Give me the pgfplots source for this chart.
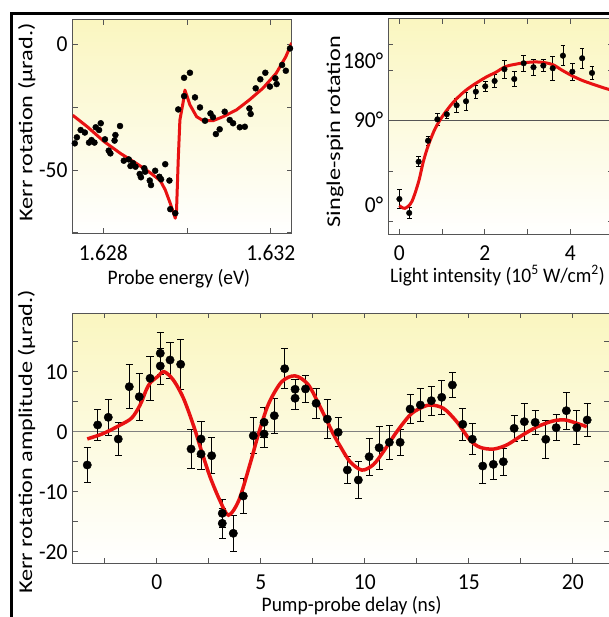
\documentclass[border=0pt]{standalone}
\usepackage{fontspec}
\setmainfont{Carlito}
\usepackage{pgfplots}
\usepackage{pgfplotstable}
\pgfplotsset{compat=1.18}

\definecolor{fitred}{RGB}{232,18,18}
\definecolor{paleyellow}{RGB}{250,246,192}
\definecolor{spine}{RGB}{85,85,85}

% Kerr rotation vs probe energy (x = meV above 1.628 eV)
\pgfplotstableread{
x y
-0.68 -39.4
-0.63 -37.0
-0.54 -34.1
-0.44 -35.1
-0.34 -39.1
-0.28 -38.1
-0.21 -39.1
-0.18 -33.0
-0.10 -34.1
-0.06 -31.4
0.04 -37.8
0.13 -42.3
0.17 -43.4
0.27 -38.3
0.29 -36.1
0.40 -32.5
0.49 -46.3
0.61 -45.8
0.65 -48.4
0.71 -47.3
0.77 -48.7
0.87 -51.6
0.90 -52.9
0.98 -49.3
1.00 -50.7
1.11 -54.2
1.14 -56.0
1.24 -50.3
1.34 -52.7
1.38 -53.7
1.48 -47.7
1.58 -54.2
1.60 -65.6
1.72 -67.2
1.79 -25.9
1.93 -13.3
1.93 -20.6
2.07 -11.3
2.19 -21.1
2.31 -25.1
2.43 -30.4
2.56 -27.5
2.62 -29.0
2.69 -35.7
2.78 -33.8
2.90 -26.8
3.02 -30.1
3.10 -31.4
3.26 -33.0
3.38 -32.8
3.49 -25.5
3.52 -27.7
3.64 -17.5
3.75 -13.9
3.87 -11.3
3.98 -16.8
4.11 -13.5
4.14 -15.8
4.27 -8.2
4.36 -10.5
4.46 -1.6
}\kerrdata

\pgfplotstableread{
x y
-0.73 -28.2
-0.38 -32.8
0.02 -38.7
0.41 -43.4
0.81 -47.6
1.12 -51.1
1.36 -54.2
1.48 -57.9
1.60 -63.3
1.72 -69.2
1.75 -65.9
1.79 -46.0
1.83 -30.1
1.91 -22.8
1.95 -18.2
2.07 -24.1
2.23 -28.8
2.39 -30.4
2.62 -30.4
2.86 -28.8
3.18 -26.1
3.49 -22.1
3.81 -17.5
4.13 -11.5
4.36 -4.9
4.50 0.6
}\kerrfit

% single-spin rotation vs light intensity
\pgfplotstableread{
x y e
0.00 6.6 9.7
0.23 -8.1 6.0
0.45 46.0 5.3
0.67 68.1 4.5
0.89 90.7 6.1
1.11 96.0 4.2
1.34 105.5 7.0
1.56 109.7 9.7
1.79 119.8 7.0
2.01 125.5 5.3
2.23 131.1 7.0
2.46 143.5 9.1
2.69 133.2 7.6
2.91 149.8 8.1
3.14 145.6 8.2
3.37 147.3 6.5
3.59 144.5 12.3
3.83 157.8 10.5
4.05 140.9 9.1
4.28 155.1 10.9
4.51 139.6 7.0
}\spindata

\pgfplotstableread{
x y
0.00 -0.4
0.13 -3.2
0.29 3.8
0.45 24.9
0.56 46.0
0.68 63.6
0.84 81.2
1.03 95.3
1.26 108.6
1.50 119.2
1.73 126.9
2.05 135.7
2.24 139.8
2.48 146.2
2.71 148.7
2.94 150.4
3.18 151.2
3.41 150.4
3.61 148.0
3.80 142.7
4.04 136.7
4.27 131.9
4.51 128.0
4.74 124.5
4.95 121.6
}\spinfit

% Kerr rotation amplitude vs pump-probe delay
\pgfplotstableread{
x y e
-3.34 -5.55 2.9
-2.84 1.12 2.6
-2.33 2.40 3.0
-1.85 -1.22 2.7
-1.32 7.50 3.7
-0.84 5.83 3.9
-0.32 8.90 3.7
0.17 13.07 3.5
0.17 10.95 3.0
0.64 11.95 3.0
1.15 11.23 4.2
1.65 -2.88 3.3
2.13 -1.22 2.9
2.13 -3.72 2.6
2.64 -4.00 3.0
3.15 -13.60 2.4
3.15 -15.27 2.5
3.68 -16.93 3.0
4.16 -10.72 2.9
4.64 -0.67 3.0
5.16 1.57 2.5
5.16 -0.38 2.2
5.65 2.67 2.9
6.15 10.50 3.3
6.65 7.07 1.7
6.65 5.57 1.8
7.15 7.12 2.2
7.66 4.73 2.5
8.20 2.10 3.3
8.72 -0.10 2.4
9.16 -6.38 2.2
9.69 -8.05 3.1
10.21 -4.17 3.1
10.69 -2.67 3.6
11.18 -1.77 2.9
11.70 -1.77 2.1
12.18 3.78 2.4
12.67 4.45 2.7
13.20 5.17 2.4
13.70 5.73 2.9
14.21 7.78 2.1
14.71 1.23 2.7
15.17 -1.25 2.6
15.67 -5.72 2.9
16.18 -5.44 2.5
16.66 -5.00 2.2
17.18 0.56 2.1
17.67 1.67 3.1
18.19 1.56 2.0
18.70 -1.27 3.2
19.20 0.67 2.2
19.69 3.50 3.1
20.19 0.67 2.8
20.69 1.95 2.7
}\delaydata

\pgfplotstableread{
x y
-3.34 -1.2
-2.57 -0.3
-1.76 1.1
-1.20 2.3
-0.80 4.45
-0.50 7.0
-0.30 8.2
0.05 9.2
0.35 10.0
0.80 8.6
1.28 5.6
1.76 1.1
2.16 -3.3
2.56 -7.5
3.04 -11.5
3.45 -13.9
3.95 -11.4
4.50 -5.2
4.88 -0.5
5.37 4.6
6.00 8.3
6.65 9.3
7.29 7.8
7.93 3.6
8.49 -0.4
8.85 -2.6
9.29 -5.0
9.86 -6.4
10.41 -5.5
10.90 -3.3
11.54 0.0
12.18 2.8
12.66 3.9
13.14 4.45
13.78 3.9
14.42 1.67
15.06 -1.4
15.54 -2.6
16.18 -2.9
16.83 -2.2
17.47 -0.8
18.27 0.8
19.07 1.8
19.63 1.95
20.19 1.4
20.67 0.83
}\delayfit

\pgfplotsset{
  panel/.style={
    scale only axis,
    axis background/.style={top color=paleyellow, bottom color=white},
    axis line style={spine, line width=1pt},
    tick style={spine, line width=0.8pt},
    major tick length=5pt,
    tick align=inside,
    font=\fontsize{19.5}{23}\selectfont,
    /pgf/number format/assume math mode=true,
    every tick label/.append style={font=\fontsize{21.5}{25}\selectfont, yscale=1.06, inner sep=0pt},
    xticklabel style={yshift=-11pt},
    yticklabel style={xshift=-5pt},
    every axis x label/.style={yscale=1.06, anchor=center},
    every axis y label/.style={rotate=90, xscale=1.245, anchor=center},
  },
}

\begin{document}
\begin{tikzpicture}
\useasboundingbox (0pt,0pt) rectangle (608pt,617pt);

% top left
\begin{axis}[panel,
  at={(72.7pt,383.7pt)}, anchor=south west,
  width=219pt, height=213.3pt,
  xmin=-0.73, xmax=4.5, ymin=-75.2, ymax=9.7,
  xtick={0,2,4}, xticklabels={1.628,,1.632},
  ytick={-75,-50,-25,0}, yticklabels={,-50,,0},
  xlabel={Probe energy (eV)},
  ylabel={Kerr rotation (µrad.)},
  xlabel style={at={(axis description cs:0.485,-0.212)}},
  ylabel style={at={(axis description cs:-0.21,0.52)}},
]
\addplot[only marks, mark=*, mark size=3pt, mark options={fill=black, draw=black}] table {\kerrdata};
\addplot[fitred, line width=3pt, line join=round] table {\kerrfit};
\end{axis}

% top right
\begin{axis}[panel,
  at={(388.3pt,382.7pt)}, anchor=south west,
  width=224.6pt, height=215.3pt,
  xmin=-0.26, xmax=5, ymin=-30.6, ymax=196.5,
  xtick={0,1,2,3,4}, xticklabels={0,,2,,4},
  ytick={-17.3,36.2,90,142.7,169.8}, yticklabels={,,,,},
  extra y ticks={0,90,152.2}, extra y tick labels={0°,90°,180°},
  extra y tick style={major tick length=0pt},
  xlabel={Light intensity (10\textsuperscript{5} W/cm\textsuperscript{2})},
  ylabel={Single-spin rotation},
  xlabel style={at={(axis description cs:0.486,-0.192)}},
  ylabel style={at={(axis description cs:-0.237,0.477)}},
]
\addplot[spine, line width=0.9pt] coordinates {(-0.26,90) (5,90)};
\addplot[only marks, mark=*, mark size=2.8pt, black, mark options={fill=black},
  error bars/.cd, y dir=both, y explicit, error mark=|,
  error bar style={line width=0.7pt, black},
  error mark options={line width=0.7pt, black, mark size=2.3pt}]
  table[x=x, y=y, y error=e] {\spindata};
\addplot[fitred, line width=3pt, smooth] table {\spinfit};
\end{axis}

% bottom
\begin{axis}[panel,
  at={(72.7pt,53.7pt)}, anchor=south west,
  width=536.3pt, height=250pt,
  xmin=-4.04, xmax=21.74, ymin=-21.93, ymax=19.73,
  xtick={-2.5,0,...,20}, xticklabels={,0,,5,,10,,15,,20},
  ytick={-20,-15,...,20}, yticklabels={-20,,-10,,0,,10,,20},
  xlabel={Pump-probe delay (ns)},
  ylabel={Kerr rotation amplitude (µrad.)},
  xlabel style={at={(axis description cs:0.52,-0.168)}},
  ylabel style={at={(axis description cs:-0.0858,0.486)}},
]
\addplot[gray, line width=0.9pt] coordinates {(-4.04,0) (21.74,0)};
\addplot[only marks, mark=*, mark size=4.2pt, black, mark options={fill=black},
  error bars/.cd, y dir=both, y explicit, error mark=|,
  error bar style={line width=0.8pt, black},
  error mark options={line width=0.8pt, black, mark size=3.6pt}]
  table[x=x, y=y, y error=e] {\delaydata};
\addplot[fitred, line width=3.5pt, smooth] table {\delayfit};
\end{axis}

% outer frame
\draw[line width=3pt] (11pt,0pt) -- (11pt,603.7pt) -- (620pt,603.7pt);
\end{tikzpicture}
\end{document}
